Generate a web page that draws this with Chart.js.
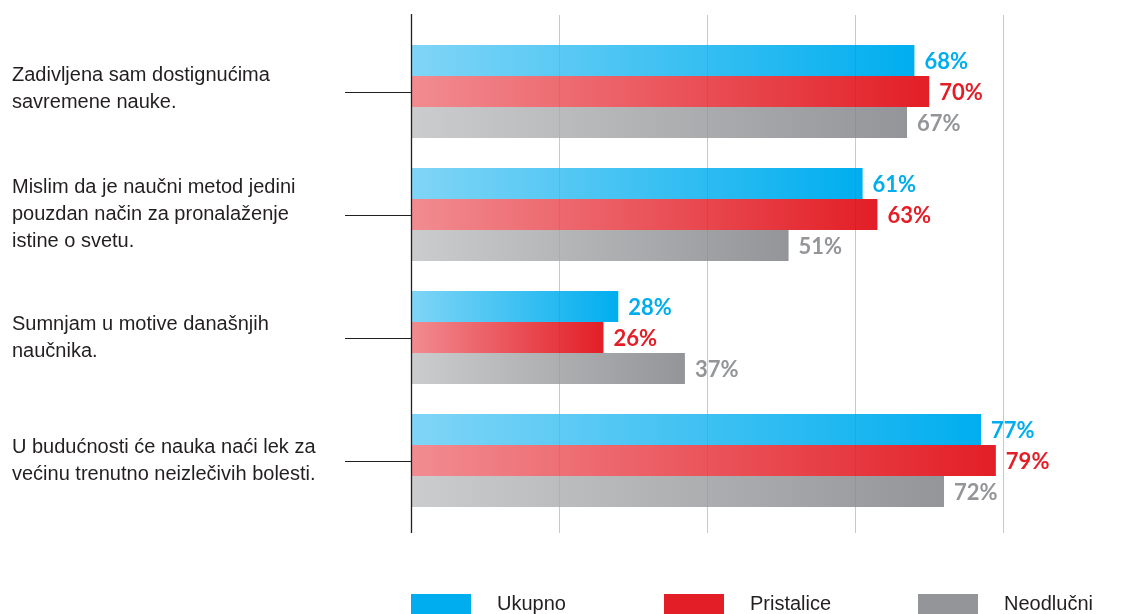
<!DOCTYPE html>
<html>
<head>
<meta charset="utf-8">
<script src="https://cdn.jsdelivr.net/npm/chart.js@4/dist/chart.umd.min.js"></script>
<style>
  html, body { margin: 0; padding: 0; background: #fff; }
  #wrap { width: 1138px; height: 614px; position: relative; }
</style>
</head>
<body>
<div id="wrap"><canvas id="c" width="1138" height="614"></canvas></div>
<script>
// Statements (multi-line labels)
const statements = [
  ["Zadivljena sam dostignućima", "savremene nauke."],
  ["Mislim da je naučni metod jedini", "pouzdan način za pronalaženje", "istine o svetu."],
  ["Sumnjam u motive današnjih", "naučnika."],
  ["U budućnosti će nauka naći lek za", "većinu trenutno neizlečivih bolesti."]
];
const seriesNames = ["Ukupno", "Pristalice", "Neodlučni"];
const ukupno     = [68, 61, 28, 77];
const pristalice = [70, 63, 26, 79];
const neodlucni  = [67, 51, 37, 72];
const gridTicks  = [0, 20, 40, 60, 80];

// [gradient start, gradient end / solid colour]
const palette = [
  ["#80d5f6", "#00aeef"],
  ["#f18c91", "#e31e26"],
  ["#cbcccd", "#939598"]
];

function barFill(ctx) {
  const chart = ctx.chart;
  const pal = palette[ctx.datasetIndex];
  if (!chart.chartArea || ctx.type !== 'data') return pal[1];
  const xs = chart.scales.x;
  const x0 = xs.getPixelForValue(0);
  const x1 = xs.getPixelForValue(ctx.raw);
  if (x1 - x0 < 1) return pal[1];
  const g = chart.ctx.createLinearGradient(x0, 0, x1, 0);
  g.addColorStop(0, pal[0]);
  g.addColorStop(1, pal[1]);
  return g;
}

const frame = {
  id: 'frame',
  beforeDatasetsDraw(chart) {
    const { ctx } = chart;
    const xs = chart.scales.x;
    ctx.save();
    ctx.lineWidth = 1;
    ctx.strokeStyle = '#d6d6d6';
    gridTicks.slice(1).forEach(v => {
      const x = Math.round(xs.getPixelForValue(v)) + 0.5;
      ctx.beginPath(); ctx.moveTo(x, 15); ctx.lineTo(x, 533); ctx.stroke();
    });
    ctx.restore();
  },
  afterDatasetsDraw(chart) {
    const { ctx } = chart;
    const xs = chart.scales.x, ys = chart.scales.y;
    ctx.save();
    // faint grid showing through the bars
    ctx.lineWidth = 1;
    ctx.strokeStyle = 'rgba(0,0,0,0.06)';
    gridTicks.slice(1).forEach(v => {
      const x = Math.round(xs.getPixelForValue(v)) + 0.5;
      ctx.beginPath(); ctx.moveTo(x, 15); ctx.lineTo(x, 533); ctx.stroke();
    });
    // value axis baseline
    const x0 = Math.round(xs.getPixelForValue(0)) + 0.5;
    ctx.strokeStyle = '#231f20';
    ctx.lineWidth = 1.3;
    ctx.beginPath(); ctx.moveTo(x0, 14); ctx.lineTo(x0, 533); ctx.stroke();

    // value labels
    ctx.font = 'bold 22px Lato, "Open Sans", sans-serif';
    ctx.textBaseline = 'middle';
    ctx.textAlign = 'left';
    chart.data.datasets.forEach((ds, di) => {
      const meta = chart.getDatasetMeta(di);
      ctx.fillStyle = palette[di][1];
      meta.data.forEach((bar, i) => {
        ctx.fillText(ds.data[i] + '%', bar.x + 10, bar.y + 1);
      });
    });

    // statement labels with leader lines
    ctx.font = '20px "Liberation Sans", Arial, sans-serif';
    ctx.fillStyle = '#231f20';
    ctx.textBaseline = 'middle';
    const lh = 27;
    statements.forEach((lines, i) => {
      const yc = ys.getPixelForValue(i);
      const start = yc - (lines.length - 1) * lh / 2 - (i === 0 ? 3 : 0);
      lines.forEach((t, k) => ctx.fillText(t, 12, start + k * lh));
      ctx.strokeStyle = '#231f20';
      ctx.lineWidth = 1;
      const yl = Math.round(yc) + 0.5;
      ctx.beginPath(); ctx.moveTo(345, yl); ctx.lineTo(x0, yl); ctx.stroke();
    });

    // legend
    const lx = [411, 664, 918];
    ctx.textBaseline = 'alphabetic';
    seriesNames.forEach((n, i) => {
      ctx.fillStyle = palette[i][1];
      ctx.fillRect(lx[i], 594, 60, 20);
      ctx.fillStyle = '#231f20';
      ctx.fillText(n, lx[i] + 86, 610);
    });
    ctx.restore();
  }
};

new Chart(document.getElementById('c'), {
  type: 'bar',
  data: {
    labels: statements.map(s => s.join(' ')),
    datasets: [
      { label: seriesNames[0], data: ukupno, backgroundColor: barFill },
      { label: seriesNames[1], data: pristalice, backgroundColor: barFill },
      { label: seriesNames[2], data: neodlucni, backgroundColor: barFill }
    ]
  },
  options: {
    indexAxis: 'y',
    responsive: false,
    animation: false,
    devicePixelRatio: 1,
    layout: { padding: { left: 411, right: 0, top: 30, bottom: 92 } },
    datasets: {
      bar: {
        borderWidth: 0,
        categoryPercentage: 0.756,
        barPercentage: 1
      }
    },
    scales: {
      x: { display: false, min: 0, max: 98.2 },
      y: { display: false }
    },
    plugins: {
      colors: { enabled: false },
      legend: { display: false },
      tooltip: { enabled: false }
    }
  },
  plugins: [frame]
});
</script>
</body>
</html>
